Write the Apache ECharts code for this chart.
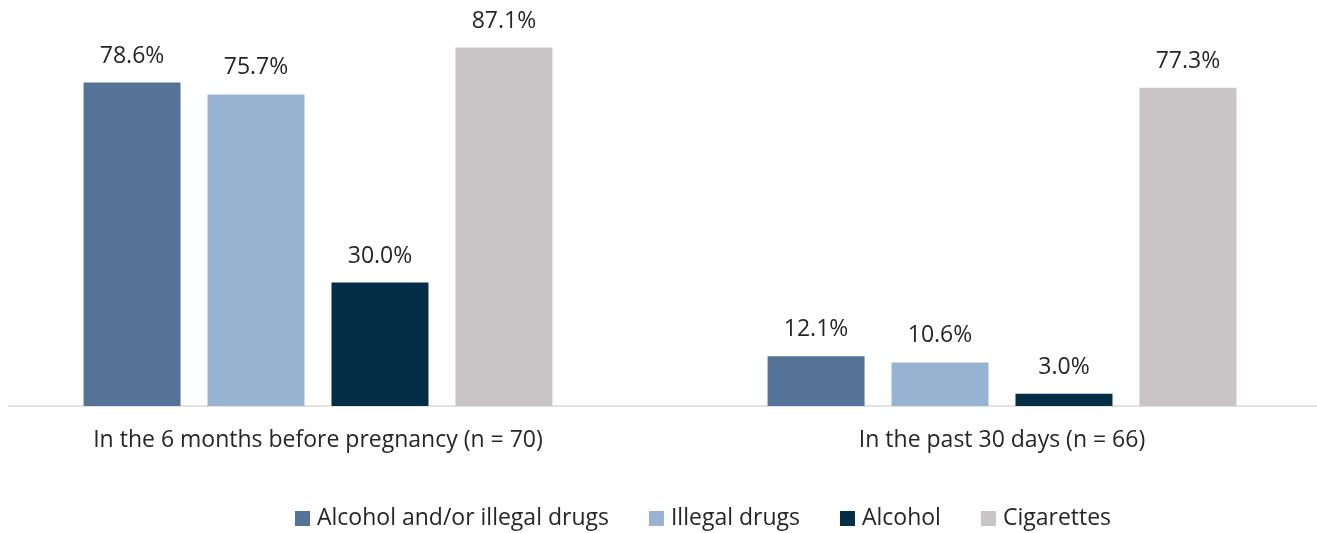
<!DOCTYPE html>
<html>
<head>
<meta charset="utf-8">
<script src="https://cdn.jsdelivr.net/npm/echarts@6/dist/echarts.min.js"></script>
<style>
  html, body { margin: 0; padding: 0; background: #ffffff; }
  #chart { width: 1317px; height: 533px; }
</style>
</head>
<body>
<div id="chart"></div>
<script>
// Substance use among respondents, by time period
const categories = ['In the 6 months before pregnancy (n = 70)', 'In the past 30 days (n = 66)'];
const seriesNames = ['Alcohol and/or illegal drugs', 'Illegal drugs', 'Alcohol', 'Cigarettes'];
const alcoholOrDrugs = [78.6, 12.1];
const illegalDrugs = [75.7, 10.6];
const alcohol = [30.0, 3.0];
const cigarettes = [87.1, 77.3];

const colors = ['#557396', '#98b3d1', '#032e46', '#c9c5c6'];
const values = [alcoholOrDrugs, illegalDrugs, alcohol, cigarettes];
const font = '"Open Sans", sans-serif';
const textColor = '#262626';

const chart = echarts.init(document.getElementById('chart'));

chart.setOption({
  animation: false,
  textStyle: { fontFamily: font },
  grid: [
    { left: -24, right: -27, top: 35.6, bottom: 127, containLabel: false, outerBoundsMode: 'none' },
    // baseline rule across the plot
    { left: 9, right: 0, top: 35.6, bottom: 127, containLabel: false, outerBoundsMode: 'none' }
  ],
  legend: {
    top: 507,
    left: 295,
    padding: 0,
    itemWidth: 15,
    itemHeight: 15,
    itemGap: 40,
    icon: 'rect',
    textStyle: { fontSize: 23, color: textColor, fontFamily: font, padding: [0, 0, 0, 2] },
    data: seriesNames
  },
  xAxis: [
    {
      type: 'category',
      gridIndex: 0,
      data: categories,
      axisLine: { show: false },
      axisTick: { show: false },
      axisLabel: { fontSize: 23, color: textColor, fontFamily: font, margin: 23 }
    },
    {
      type: 'category',
      gridIndex: 1,
      data: categories,
      axisLine: { show: true, lineStyle: { color: '#d9d9d9', width: 1.5 } },
      axisTick: { show: false },
      axisLabel: { show: false }
    }
  ],
  yAxis: [
    { type: 'value', gridIndex: 0, min: 0, max: 90, show: false },
    { type: 'value', gridIndex: 1, min: 0, max: 90, show: false }
  ],
  series: seriesNames.map((name, i) => ({
    name: name,
    type: 'bar',
    xAxisIndex: 0,
    yAxisIndex: 0,
    data: values[i],
    barWidth: 97,
    barGap: '27.8%',
    itemStyle: { color: colors[i] },
    label: {
      show: true,
      position: 'top',
      distance: 15,
      fontSize: 23,
      color: textColor,
      fontFamily: font,
      formatter: p => p.value.toFixed(1) + '%'
    }
  }))
});
</script>
</body>
</html>
